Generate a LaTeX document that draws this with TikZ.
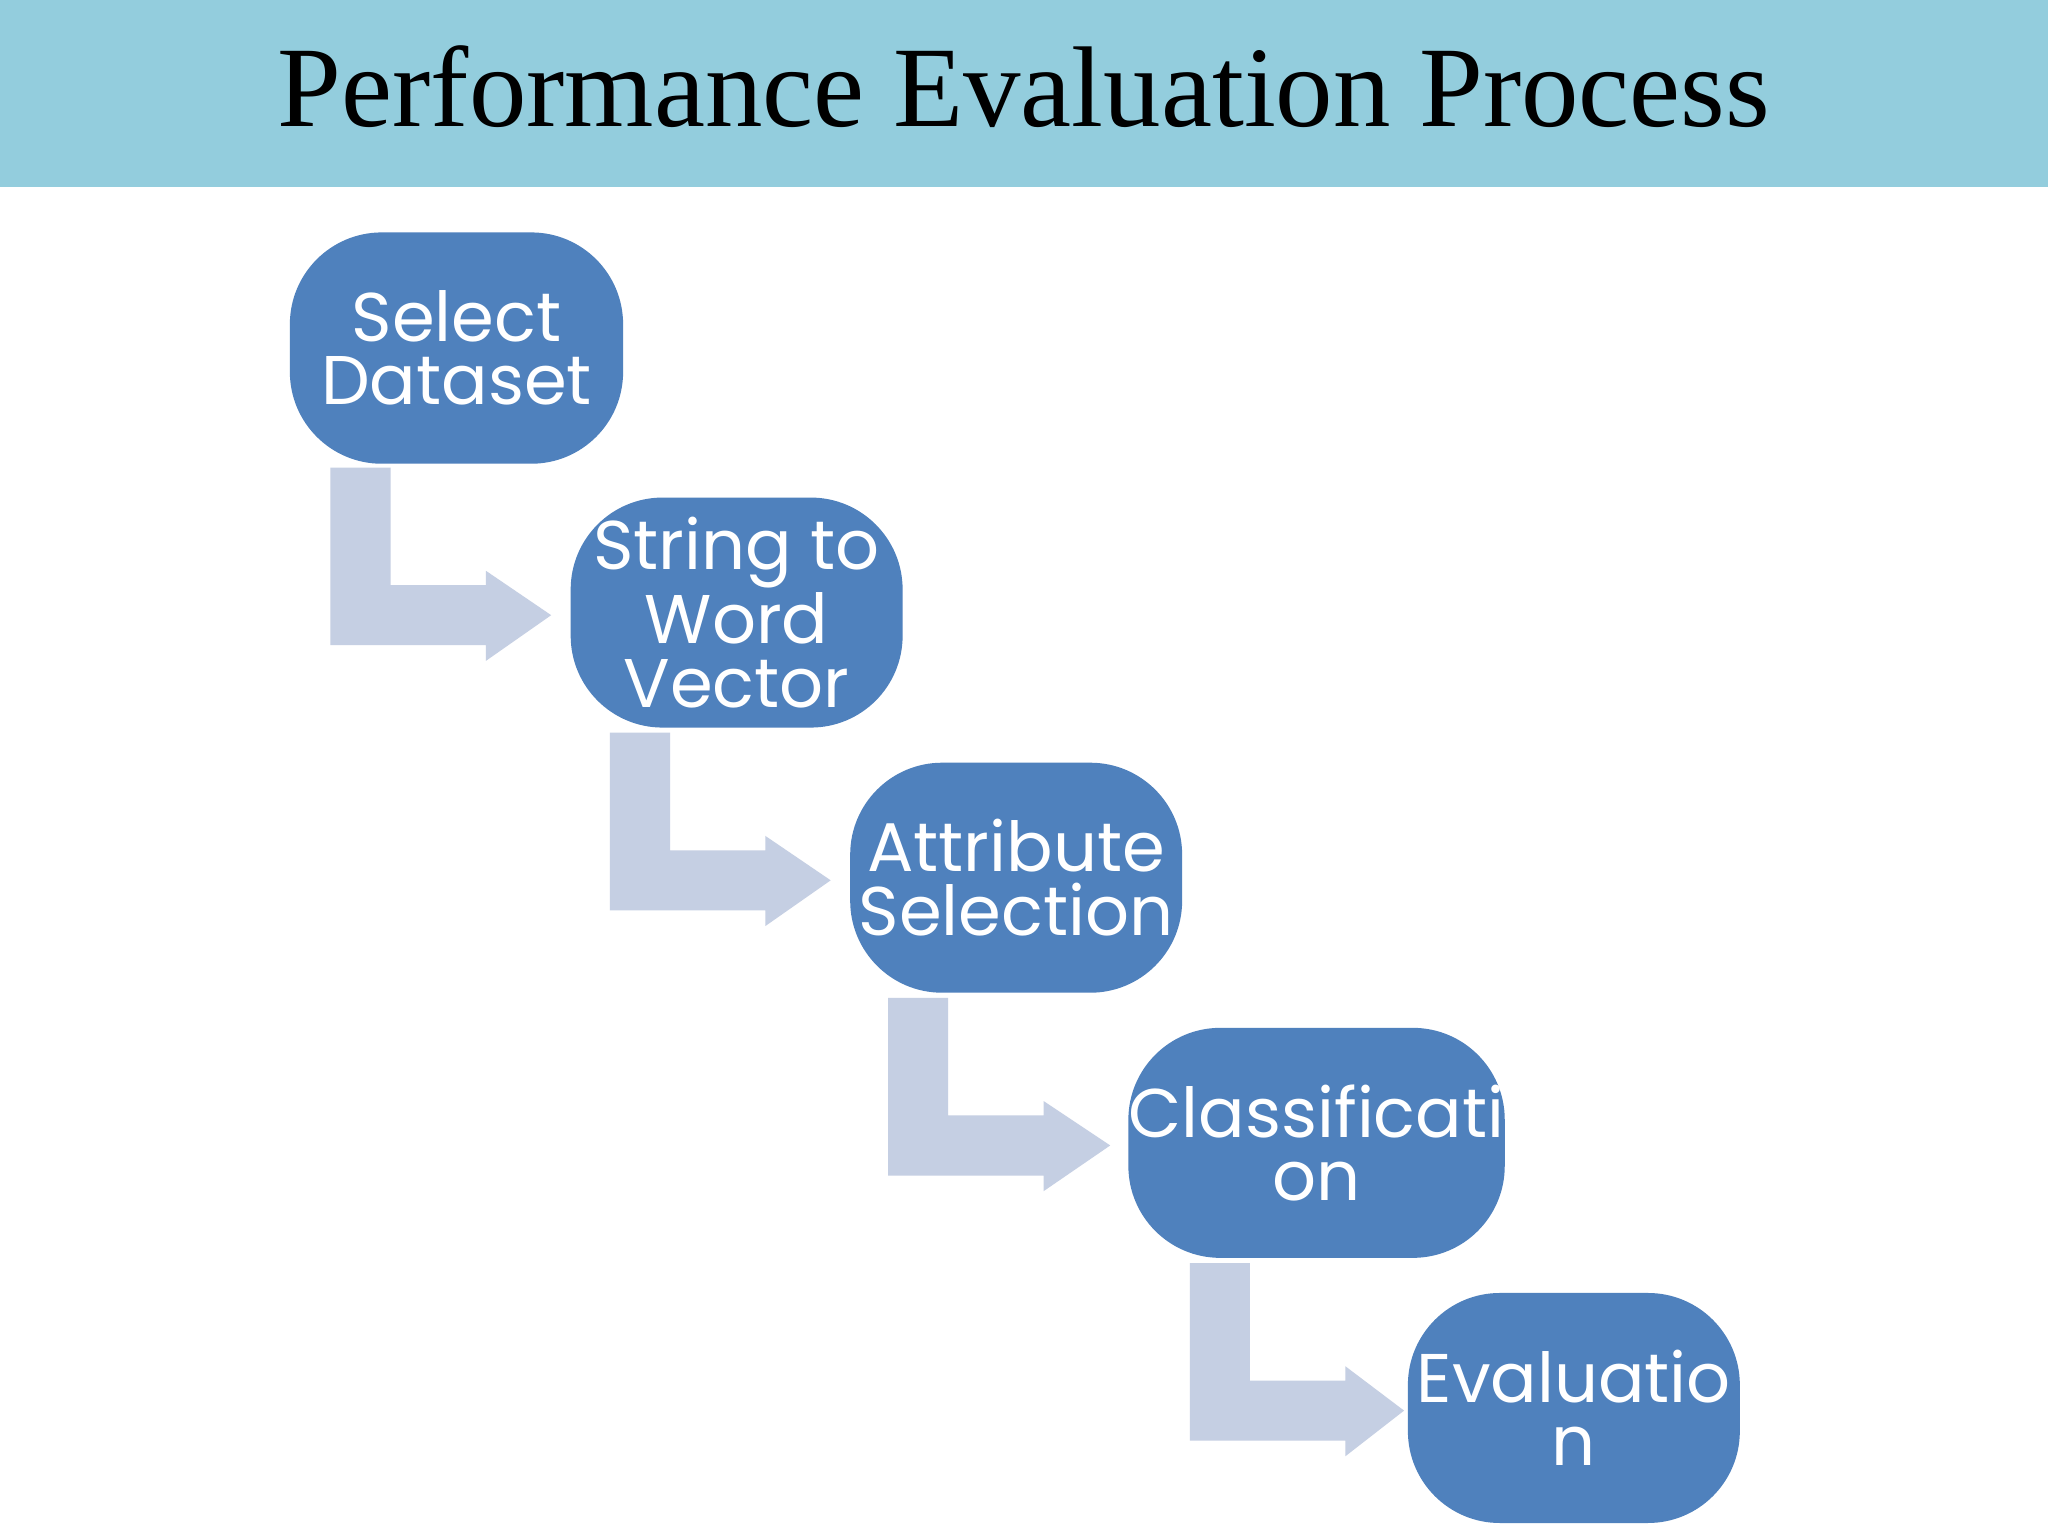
\documentclass[tikz,border=0pt]{standalone}
\usepackage{fontspec}
\setmainfont{Liberation Serif}
\newfontfamily\boxfont{Poppins}
\definecolor{band}{HTML}{93CDDD}
\definecolor{boxblue}{HTML}{4F81BD}
\definecolor{arr}{HTML}{C5CFE3}
\tikzset{stepbox/.style={fill=boxblue,rounded corners=20pt,inner sep=0pt,text=white,align=center,font=\boxfont\fontsize{15}{13.8}\selectfont},
bentarrow/.style={fill=arr,draw=none}}
\begin{document}
\begin{tikzpicture}[x=0.01cm,y=-0.01cm]
\useasboundingbox (0,0) rectangle (1568,1176);
\fill[white] (0,0) rectangle (1568,1176);
\fill[band] (0,0) rectangle (1568,143);
\node[font=\fontsize{25}{28}\selectfont] (title) at (784,66) {Performance Evaluation Process};
% boxes
\node[stepbox,minimum width=2.55cm,minimum height=1.77cm] (b1) at (349.5,266.5) {Select\\Dataset};
\node[stepbox,minimum width=2.54cm,minimum height=1.76cm] (b2) at (564,469) {String to\\Word\\Vector};
\node[stepbox,minimum width=2.54cm,minimum height=1.76cm] (b3) at (778,672) {Attribute\\Selection};
\node[stepbox,minimum width=2.88cm,minimum height=1.76cm] (b4) at (1008,875) {Classificati\\on};
\node[stepbox,minimum width=2.54cm,minimum height=1.76cm] (b5) at (1205,1078) {Evaluatio\\n};
% arrows
\foreach \dx/\dy/\tip in {0/0/422, 214/203/636, 427/406/850, 658/609/1075}{
 \fill[bentarrow] (253+\dx,358+\dy) -- (299+\dx,358+\dy) -- (299+\dx,448+\dy) -- (372+\dx,448+\dy)
  -- (372+\dx,437+\dy) -- (\tip,471+\dy) -- (372+\dx,506+\dy) -- (372+\dx,494+\dy) -- (253+\dx,494+\dy) -- cycle;
}
\end{tikzpicture}
\end{document}
